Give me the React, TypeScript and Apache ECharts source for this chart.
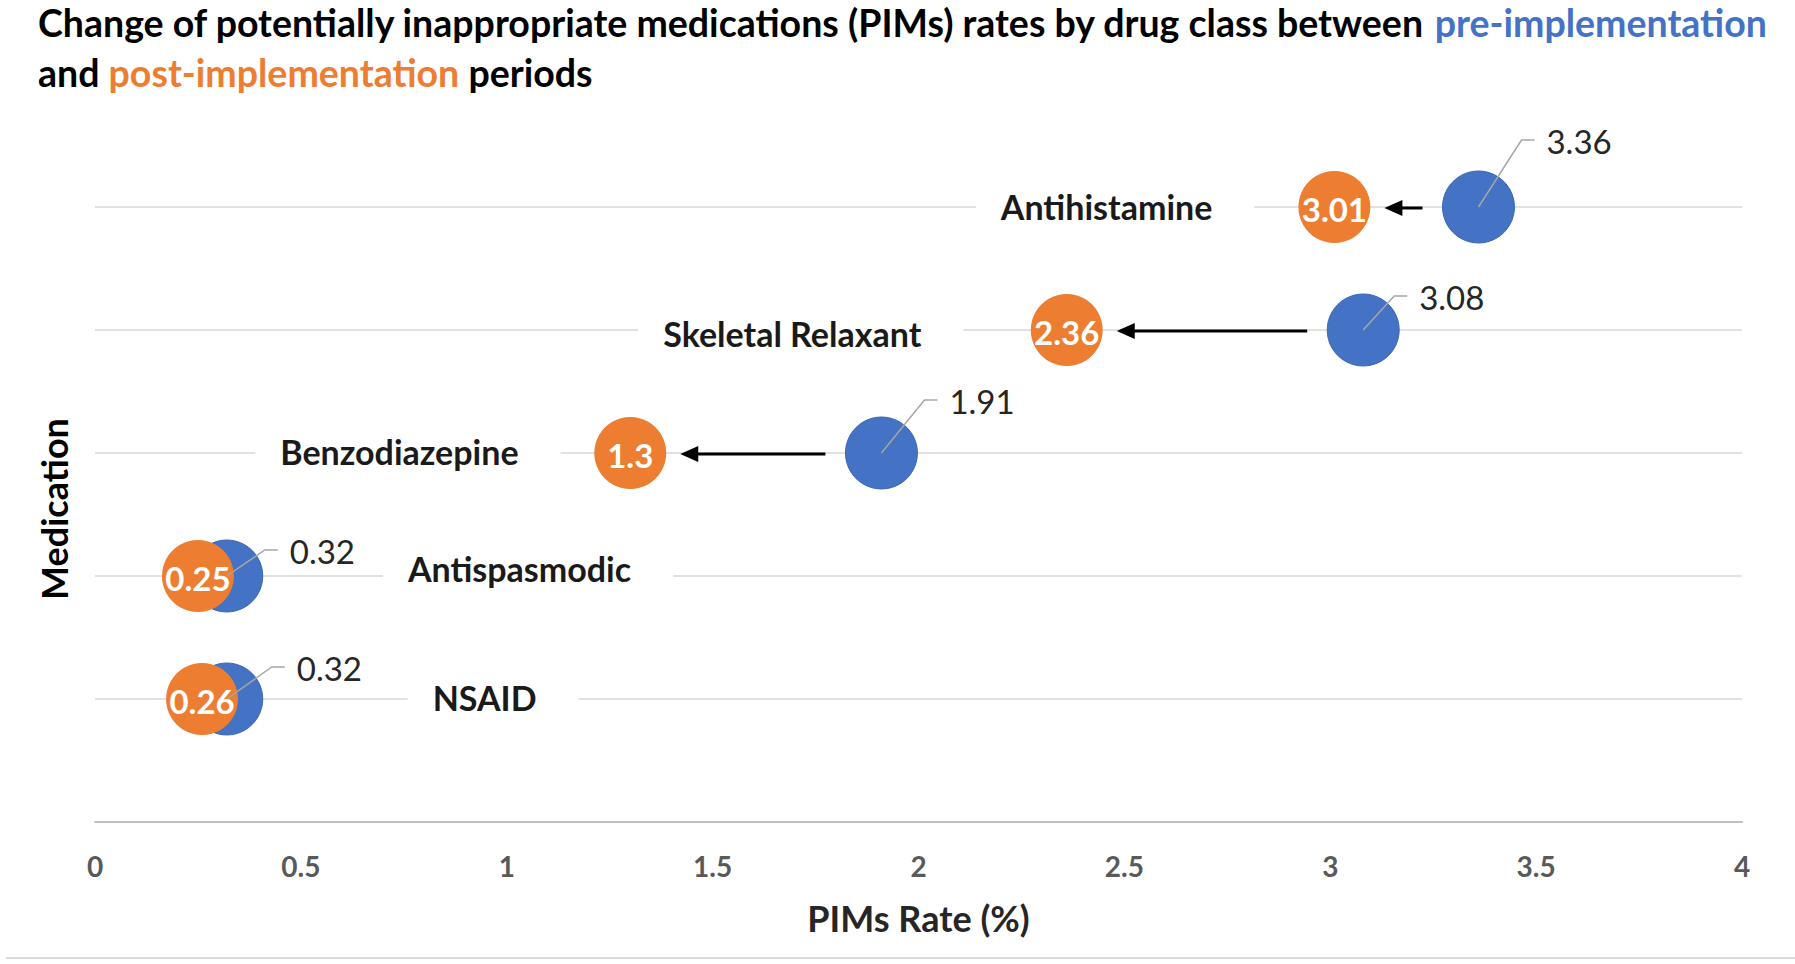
import React, { useEffect, useRef } from 'react';
import * as echarts from 'echarts';

// ---- data ----
const categories = ['Antihistamine', 'Skeletal Relaxant', 'Benzodiazepine', 'Antispasmodic', 'NSAID'];
const preValues = [3.36, 3.08, 1.91, 0.32, 0.32];
const postValues = [3.01, 2.36, 1.3, 0.25, 0.26];
// x position (in axis units) where each category label starts (hidden label series)
const categoryLabelX = [2.2, 1.38, 0.45, 0.76, 0.82];
const xMin = 0;
const xMax = 4;
const xInterval = 0.5;

// ---- layout / style (pixels) ----
const categoryLabelDy = [-1, 3, -2, -8, -2];
const preLabelOffsets = [
  [68, -64],
  [56, -31],
  [68, -50],
  [63, -23],
  [70, -29],
];
const BLUE = '#4472C4';
const ORANGE = '#ED7D31';
const FONT = 'Lato, "Open Sans", sans-serif';
const BUBBLE = 72;
const TITLE_SIZE = 37.5;

export default function App() {
  const ref = useRef<HTMLDivElement>(null);

  useEffect(() => {
    if (!ref.current) return;
    const chart = echarts.init(ref.current, null, { renderer: 'svg' });
    const n = categories.length;
    const rowY = (i: number) => n - i;

    const option: any = {
      animation: false,
      backgroundColor: '#ffffff',
      grid: { left: 95, right: 53, top: 84, bottom: 142, outerBoundsMode: 'none' },
      xAxis: {
        type: 'value',
        min: xMin,
        max: xMax,
        interval: xInterval,
        axisLine: { show: true, lineStyle: { color: '#BFBFBF', width: 2 } },
        axisTick: { show: false },
        splitLine: { show: false },
        axisLabel: {
          color: '#595959',
          fontFamily: FONT,
          fontWeight: 'bold',
          fontSize: 28,
          margin: 30,
        },
        name: 'PIMs Rate (%)',
        nameLocation: 'middle',
        nameGap: 78,
        nameTextStyle: { color: '#262626', fontFamily: FONT, fontWeight: 'bold', fontSize: 36 },
      },
      yAxis: {
        type: 'value',
        min: 0,
        max: n + 1,
        interval: 1,
        show: false,
        splitLine: { show: false },
      },
      graphic: [
        {
          type: 'text',
          x: 38,
          y: 22,
          style: {
            text: '{k|Change of potentially inappropriate medications (PIMs) rates by drug class between }{b|pre-implementation}',
            verticalAlign: 'middle',
            rich: {
              k: { fill: '#000000', fontFamily: FONT, fontWeight: 'bold', fontSize: TITLE_SIZE },
              b: { fill: BLUE, fontFamily: FONT, fontWeight: 'bold', fontSize: TITLE_SIZE },
            },
          },
        },
        {
          type: 'text',
          x: 38,
          y: 72,
          style: {
            text: '{k|and }{o|post-implementation}{k| periods}',
            verticalAlign: 'middle',
            rich: {
              k: { fill: '#000000', fontFamily: FONT, fontWeight: 'bold', fontSize: TITLE_SIZE },
              o: { fill: ORANGE, fontFamily: FONT, fontWeight: 'bold', fontSize: TITLE_SIZE },
            },
          },
        },
        {
          type: 'text',
          x: 54,
          y: 509,
          rotation: Math.PI / 2,
          style: {
            text: 'Medication',
            fill: '#000000',
            font: `bold 36px ${FONT}`,
            align: 'center',
            verticalAlign: 'middle',
          },
        },
        {
          type: 'line',
          shape: { x1: 6, y1: 958, x2: 1795, y2: 958 },
          style: { stroke: '#D9D9D9', lineWidth: 2 },
        },
      ],
      series: [
        {
          name: 'rows',
          type: 'custom',
          z: 1,
          data: categories.map((c, i) => [categoryLabelX[i], rowY(i), i]),
          renderItem: (params: any, api: any) => {
            const y = api.value(1);
            const idx = api.value(2);
            const a = api.coord([xMin, y]);
            const b = api.coord([xMax, y]);
            const t = api.coord([api.value(0), y]);
            return {
              type: 'group',
              children: [
                {
                  type: 'line',
                  shape: { x1: a[0], y1: a[1], x2: b[0], y2: b[1] },
                  style: { stroke: '#D9D9D9', lineWidth: 1.5 },
                },
                {
                  type: 'text',
                  x: t[0] - 25,
                  y: t[1] + categoryLabelDy[idx],
                  style: {
                    text: categories[idx],
                    fill: '#1a1a1a',
                    font: `bold 34px ${FONT}`,
                    align: 'left',
                    verticalAlign: 'middle',
                    backgroundColor: '#ffffff',
                    padding: [4, 42, 4, 25],
                  },
                },
              ],
            };
          },
        },
        {
          name: 'pre-implementation',
          type: 'scatter',
          z: 3,
          symbolSize: BUBBLE,
          itemStyle: { color: BLUE, borderColor: '#3D67B5', borderWidth: 1, opacity: 1 },
          data: preValues.map((v, i) => [v, rowY(i)]),
        },
        {
          name: 'post-implementation',
          type: 'scatter',
          z: 4,
          symbolSize: BUBBLE,
          itemStyle: { color: ORANGE, opacity: 1 },
          label: {
            show: true,
            position: 'inside',
            formatter: (p: any) => String(p.value[0]),
            color: '#ffffff',
            fontFamily: FONT,
            fontWeight: 'bold',
            fontSize: 33,
            offset: [0, 2],
          },
          data: postValues.map((v, i) => [v, rowY(i)]),
        },
        {
          name: 'arrows',
          type: 'custom',
          z: 5,
          data: categories.map((c, i) => [preValues[i], postValues[i], rowY(i)]),
          renderItem: (params: any, api: any) => {
            const y = api.value(2);
            const p1 = api.coord([api.value(0), y]);
            const p2 = api.coord([api.value(1), y]);
            const start = p1[0] - BUBBLE / 2 - 20;
            const tip = p2[0] + BUBBLE / 2 + 14;
            if (start - tip < 20) return { type: 'group', children: [] };
            const yy = p1[1] + 1;
            return {
              type: 'group',
              children: [
                {
                  type: 'line',
                  shape: { x1: start, y1: yy, x2: tip + 12, y2: yy },
                  style: { stroke: '#000000', lineWidth: 3 },
                },
                {
                  type: 'polygon',
                  shape: { points: [[tip, yy], [tip + 18, yy - 8], [tip + 18, yy + 8]] },
                  style: { fill: '#000000' },
                },
              ],
            };
          },
        },
        {
          name: 'preLabels',
          type: 'custom',
          z: 6,
          data: preValues.map((v, i) => [v, rowY(i), i]),
          renderItem: (params: any, api: any) => {
            const idx = api.value(2);
            const c = api.coord([api.value(0), api.value(1)]);
            const [dx, dy] = preLabelOffsets[idx];
            const endX = c[0] + dx - 12;
            const elbowX = endX - 13;
            const ly = c[1] + dy - 3;
            return {
              type: 'group',
              children: [
                {
                  type: 'polyline',
                  shape: { points: [[c[0], c[1]], [elbowX, ly], [endX, ly]] },
                  style: { stroke: '#A6A6A6', lineWidth: 1.5, fill: null },
                },
                {
                  type: 'text',
                  x: c[0] + dx,
                  y: c[1] + dy - 2,
                  style: {
                    text: String(preValues[idx]),
                    fill: '#262626',
                    font: `33px ${FONT}`,
                    align: 'left',
                    verticalAlign: 'middle',
                  },
                },
              ],
            };
          },
        },
      ],
    };

    chart.setOption(option);
    return () => chart.dispose();
  }, []);

  return (
    <div
      ref={ref}
      style={{ position: 'fixed', left: 0, top: 0, width: 1795, height: 964, background: '#fff' }}
    />
  );
}
